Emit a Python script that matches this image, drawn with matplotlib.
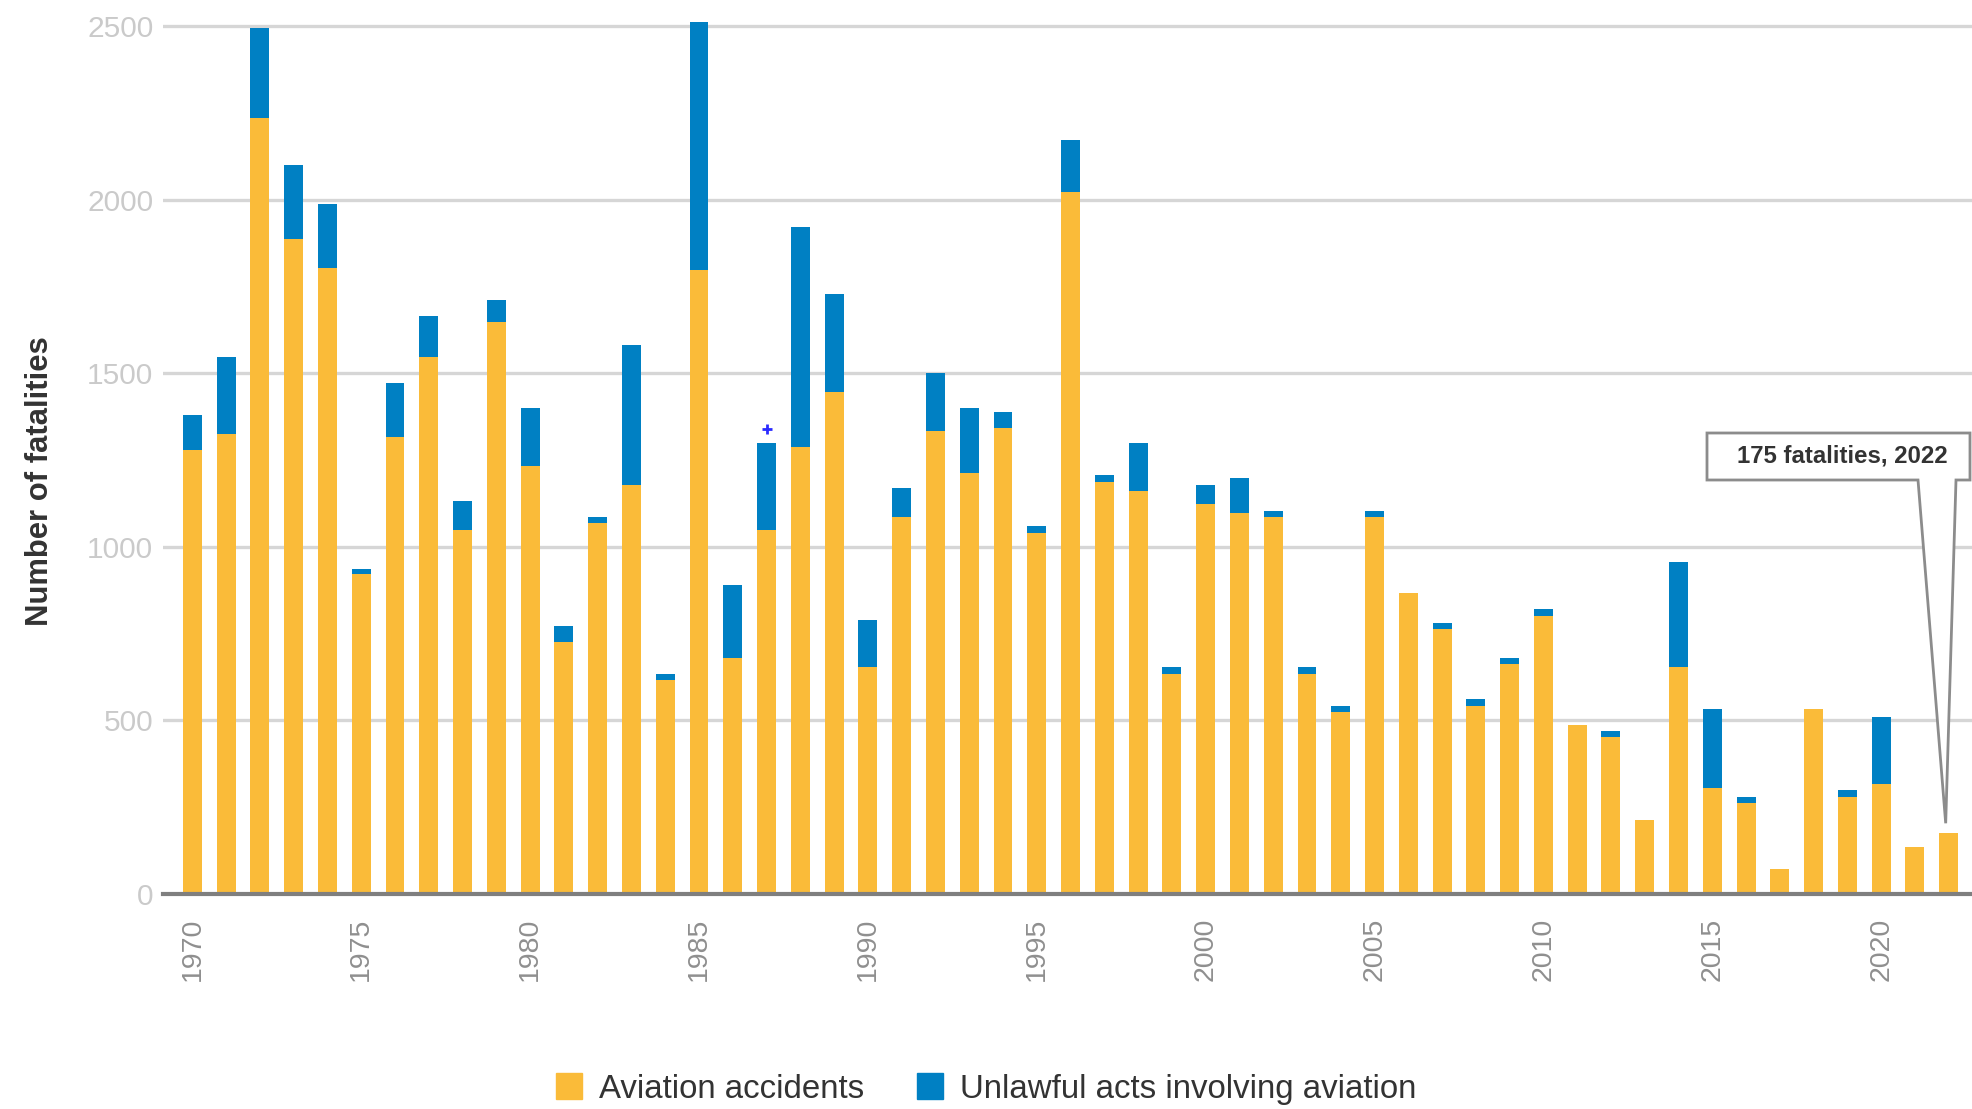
import matplotlib
matplotlib.use("Agg")
import matplotlib.pyplot as plt
from matplotlib import font_manager
from matplotlib.patches import Polygon, Patch

# fatalities per year: aviation accidents + unlawful acts
years = list(range(1970, 2023))
accidents = [1279, 1326, 2235, 1886, 1805, 921, 1316, 1548, 1050, 1649,
             1233, 727, 1068, 1178, 617, 1797, 680, 1050, 1287, 1447,
             654, 1085, 1334, 1214, 1342, 1039, 2024, 1186, 1160, 634,
             1123, 1097, 1085, 634, 524, 1085, 866, 765, 541, 664,
             801, 486, 451, 212, 654, 305, 263, 71, 534, 280,
             317, 134, 175]
unlawful = [101, 222, 260, 214, 183, 16, 155, 118, 81, 63,
            167, 46, 17, 405, 17, 716, 211, 249, 636, 283,
            136, 85, 167, 186, 47, 20, 148, 20, 139, 20,
            55, 101, 20, 20, 17, 20, 0, 16, 21, 16,
            19, 0, 19, 0, 303, 228, 17, 0, 0, 20,
            192, 0, 0]
tick_years = list(range(1970, 2021, 5))
y_ticks = [0, 500, 1000, 1500, 2000, 2500]
series_names = ["Aviation accidents", "Unlawful acts involving aviation"]
anno_year, anno_value = 2022, 175
anno_text = "175 fatalities, 2022"
mark_year, mark_value = 1987, 1340

YELLOW = "#FABB39"
BLUE = "#0080C3"

names = {f.name for f in font_manager.fontManager.ttflist}
narrow = "Liberation Sans Narrow" if "Liberation Sans Narrow" in names else "Liberation Sans"
plt.rcParams["font.family"] = [narrow, "DejaVu Sans"]

W, H = 1972, 1109
fig = plt.figure(figsize=(W / 100, H / 100), dpi=100)
ax = fig.add_axes([163 / W, (H - 894) / H, 1 - 163 / W, 885 / H])

ax.bar(years, accidents, width=0.56, color=YELLOW, zorder=2)
ax.bar(years, unlawful, width=0.56, bottom=accidents, color=BLUE, zorder=2)
ax.plot([mark_year], [mark_value], marker="+", ms=7, mew=2, color="#2a2aff", zorder=3)

ax.set_xlim(1969.13, 2022.69)
ax.set_ylim(0, 2550)
ax.set_yticks(y_ticks)
ax.set_xticks(tick_years)
ax.set_xticklabels([str(y) for y in tick_years], rotation=90)
ax.tick_params(axis="x", length=0, pad=17, labelsize=20.5, labelcolor="#8f8f8f")
ax.tick_params(axis="y", length=0, pad=7, labelsize=21.5, labelcolor="#cacaca")
ax.grid(axis="y", color="#d6d6d6", lw=2.4, zorder=0)
ax.set_axisbelow(True)
for s in ["top", "right", "left"]:
    ax.spines[s].set_visible(False)
ax.spines["bottom"].set_color("#7f7f7f")
ax.spines["bottom"].set_linewidth(3)
ax.spines["bottom"].set_zorder(4)

fig.text(40 / W, 1 - 481 / H, "Number of fatalities", rotation=90, ha="center",
         va="center", fontsize=22.3, fontweight="bold", color="#333333")

handles = [Patch(color=YELLOW), Patch(color=BLUE)]
fig.legend(handles, series_names, loc="center", bbox_to_anchor=(0.5, 1 - 1089 / H),
           ncol=2, frameon=False, fontsize=23.8, labelcolor="#333333",
           handlelength=0.8, handleheight=0.8, handletextpad=0.5, columnspacing=1.6)

# callout box with pointer to the 2022 bar
tip = ax.transData.transform((anno_year, anno_value))
tip = fig.transFigure.inverted().transform((tip[0] - 3, tip[1] + 10))
bl, br = 1707 / W, 1970 / W
bt, bb = 1 - 433 / H, 1 - 480 / H
pl, pr = 1918 / W, 1956 / W
verts = [(bl, bt), (br, bt), (br, bb), (pr, bb), tuple(tip), (pl, bb), (bl, bb)]
fig.add_artist(Polygon(verts, closed=True, transform=fig.transFigure, fc="white",
                       ec="#8c8c8c", lw=2, joinstyle="miter", zorder=5))
fig.text((bl + br) / 2 + 0.002, (bt + bb) / 2, anno_text, ha="center", va="center",
         fontsize=17.3, fontweight="bold", color="#333333", zorder=6)

fig.savefig("out.png", dpi=100)
